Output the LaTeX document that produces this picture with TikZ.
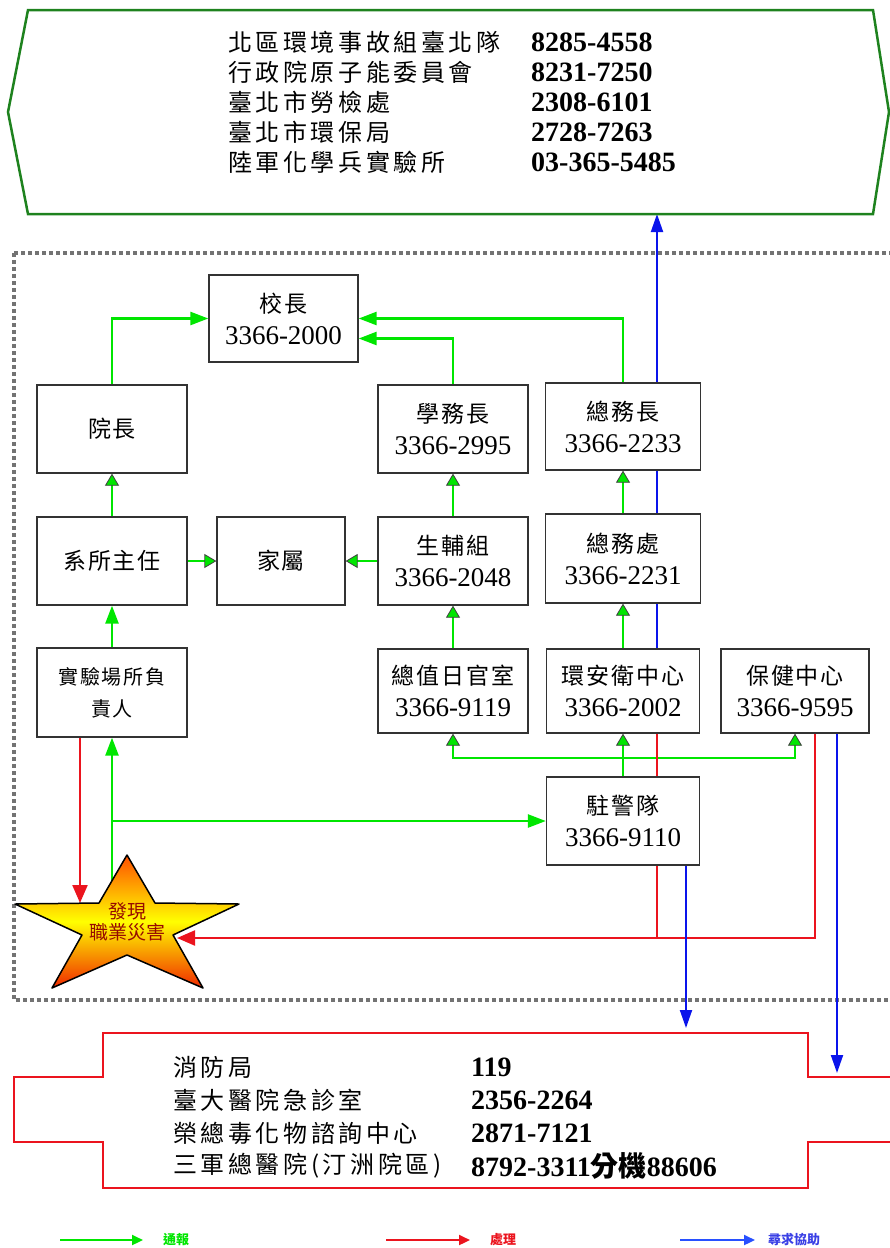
\documentclass[tikz,border=0pt]{standalone}
\usepackage{fontspec}
\setmainfont{Liberation Serif}
\newfontfamily\cjk{Noto Sans CJK TC}
\newfontfamily\boxcjk[LetterSpace=8]{Noto Sans CJK TC}
\newfontfamily\listcjk[LetterSpace=15]{Noto Sans CJK TC}
\usetikzlibrary{arrows.meta,positioning}
\pgfdeclarelayer{back}
\pgfsetlayers{back,main}
\definecolor{repgreen}{RGB}{0,230,0}
\definecolor{handred}{RGB}{235,20,30}
\definecolor{seekblue}{RGB}{10,20,235}
\definecolor{keyblue}{RGB}{40,80,255}
\definecolor{framegreen}{RGB}{30,130,30}
\definecolor{starred}{RGB}{150,10,0}
\definecolor{startop}{RGB}{255,80,0}
\definecolor{starbottom}{RGB}{240,40,0}
\tikzset{
  org box/.style={draw=black!80,fill=white,line width=1.3pt,minimum width=150pt,minimum height=88pt,
    inner sep=0pt,align=center,font=\boxcjk\fontsize{23}{32}\selectfont},
  report/.style={repgreen,line width=2.5pt,-{Triangle[length=18pt,width=13pt]}},
  report in/.style={repgreen,line width=2.5pt,-{Triangle[length=12pt,width=14pt,fill=repgreen,color=black!75,line width=0.8pt]}},
  handle/.style={handred,line width=2.2pt,-{Triangle[length=18pt,width=15pt]}},
  seek/.style={seekblue,line width=2pt,-{Triangle[length=18pt,width=12pt]}},
  list name/.style={anchor=west,inner sep=0pt,font=\listcjk\fontsize{24}{24}\selectfont},
  list tel/.style={anchor=west,inner sep=0pt,font=\bfseries\fontsize{28}{28}\selectfont},
  key text/.style={anchor=west,inner sep=0pt,font=\cjk\bfseries\fontsize{13}{13}\selectfont},
}
\newcommand{\orgtext}[2]{#1\\{\rmfamily\fontsize{27}{32}\selectfont #2}}

\begin{document}
\begin{tikzpicture}[x=1pt,y=-1pt]
  \useasboundingbox (0,0) rectangle (890,1248);

  % units
  \node[org box,minimum width=149pt,minimum height=87pt] (xiao) at (283.5,318.5) {\orgtext{校長}{3366-2000}};
  \node[org box] (yuan) at (112,429) {院長};
  \node[org box] (xue) at (453,429) {\orgtext{學務長}{3366-2995}};
  \node[org box,minimum width=155pt,minimum height=87pt] (zongwu) at (623,426.5) {\orgtext{總務長}{3366-2233}};
  \node[org box] (dept) at (112,561) {系所主任};
  \node[org box,minimum width=128pt] (family) at (281,561) {家屬};
  \node[org box] (sheng) at (453,561) {\orgtext{生輔組}{3366-2048}};
  \node[org box,minimum width=155pt,minimum height=89pt] (zwc) at (623,558.5) {\orgtext{總務處}{3366-2231}};
  \node[org box,minimum height=89pt,font=\boxcjk\fontsize{20}{32}\selectfont] (lab) at (112,692.5) {實驗場所負\\責人};
  \node[org box,minimum height=84pt] (duty) at (453,691) {\orgtext{總值日官室}{3366-9119}};
  \node[org box,minimum width=153pt,minimum height=84pt] (huan) at (623,691) {\orgtext{環安衛中心}{3366-2002}};
  \node[org box,minimum width=148pt,minimum height=84pt] (bao) at (795,691) {\orgtext{保健中心}{3366-9595}};
  \node[org box,minimum width=153pt] (zhu) at (623,821) {\orgtext{駐警隊}{3366-9110}};

  % star
  \draw[black,line width=1.5pt,line join=round,top color=startop,bottom color=starbottom,middle color=yellow]
    (127,855) -- (155,903) -- (239,904) -- (173,935) -- (203,988) -- (127,955)
    -- (52,988) -- (82,935) -- (15,904) -- (99,903) -- cycle;
  \node[align=center,text=starred,font=\cjk\fontsize{19}{21}\selectfont] (alarm) at (127,922) {發現\\職業災害};
  \coordinate (alarm top) at (112,884);
  \coordinate (alarm nw) at (80,903);
  \coordinate (alarm east) at (177,938);

  % outside agencies
  \draw[framegreen,line width=2.5pt] (28,10) -- (873,10) -- (889,112) -- (873,214) -- (28,214) -- (8,112) -- cycle;
  \coordinate (agency bottom) at (657,214);
  \foreach \name/\tel [count=\i] in {北區環境事故組臺北隊/8285-4558,行政院原子能委員會/8231-7250,
      臺北市勞檢處/2308-6101,臺北市環保局/2728-7263,陸軍化學兵實驗所/03-365-5485} {
    \node[list name] (agency name \i) at (228,{12+30*\i}) {\name};
    \node[list tel] (agency tel \i) at (531,{12+30*\i}) {\tel};
  }

  \draw[handred,line width=2.5pt] (103,1033) -- (808,1033) -- (808,1077) -- (900,1077) -- (900,1142)
    -- (808,1142) -- (808,1188) -- (103,1188) -- (103,1142) -- (14,1142) -- (14,1077) -- (103,1077) -- cycle;
  \coordinate (hosp a) at (686,1028);
  \coordinate (hosp b) at (837,1073);
  \foreach \name/\tel [count=\i] in {消防局/119,臺大醫院急診室/2356-2264,
      榮總毒化物諮詢中心/2871-7121,三軍總醫院(汀洲院區)/8792-3311{\cjk 分機}88606} {
    \node[list name] (hosp name \i) at (173,{1034+33*\i}) {\name};
    \node[list tel] (hosp tel \i) at (471,{1034+33*\i}) {\tel};
  }

  \begin{pgfonlayer}{back}
    \draw[black!55,line width=3.4pt,dash pattern=on 4pt off 3pt] (14,253) rectangle (900,1000);
    % reporting
    \draw[report] (yuan.north) |- (xiao.west);
    \draw[report] (zongwu.north) |- (xiao.east);
    \draw[report] (xue.north) |- ([yshift=-20pt]xiao.east);
    \draw[report in] (dept.north) -- (yuan.south);
    \draw[report in] (dept.east) -- (family.west);
    \draw[report in] (sheng.west) -- (family.east);
    \draw[report in] (sheng.north) -- (xue.south);
    \draw[report in] (zwc.north) -- (zongwu.south);
    \draw[report in] (huan.north) -- (zwc.south);
    \draw[report in] (duty.north) -- (sheng.south);
    \draw[report] (lab.north) -- (dept.south);
    \draw[report] (alarm top) -- (lab.south);
    \draw[report] (lab.south |- zhu.west) -- (zhu.west);
    \coordinate (split) at (623,758);
    \draw[repgreen,line width=2.5pt] (zhu.north) -- (split);
    \draw[report in] (split) -| (duty.south);
    \draw[report in] (split) -- (huan.south);
    \draw[report in] (split) -| (bao.south);
    % handling
    \draw[handle] ([xshift=-32pt]lab.south) -- (alarm nw);
    \draw[handred,line width=2.2pt] ([xshift=34pt]zhu.north) -- ([xshift=34pt]huan.south);
    \coordinate (red join) at (657,938);
    \draw[handle] ([xshift=34pt]zhu.south) -- (red join) -- (alarm east);
    \draw[handred,line width=2.2pt] ([xshift=20pt]bao.south) |- (red join);
    % asking for help
    \draw[seek] ([xshift=34pt]huan.north) -- (agency bottom);
    \draw[seek] ([xshift=63pt]zhu.south) -- (hosp a);
    \draw[seek] ([xshift=42pt]bao.south) -- (hosp b);
  \end{pgfonlayer}

  % key
  \coordinate (key g a) at (60,1240);  \coordinate (key g b) at (143,1240);
  \coordinate (key r a) at (386,1240); \coordinate (key r b) at (470,1240);
  \coordinate (key b a) at (680,1240); \coordinate (key b b) at (755,1240);
  \draw[repgreen,line width=2.2pt,-{Triangle[length=11pt,width=10pt]}] (key g a) -- (key g b);
  \draw[handred,line width=2.2pt,-{Triangle[length=11pt,width=10pt]}] (key r a) -- (key r b);
  \draw[keyblue,line width=2.2pt,-{Triangle[length=11pt,width=10pt]}] (key b a) -- (key b b);
  \node[key text,text=repgreen] (key g) at (163,1240) {通報};
  \node[key text,text=handred] (key r) at (490,1240) {處理};
  \node[key text,text=keyblue!80!violet] (key b) at (768,1240) {尋求協助};
\end{tikzpicture}
\end{document}
